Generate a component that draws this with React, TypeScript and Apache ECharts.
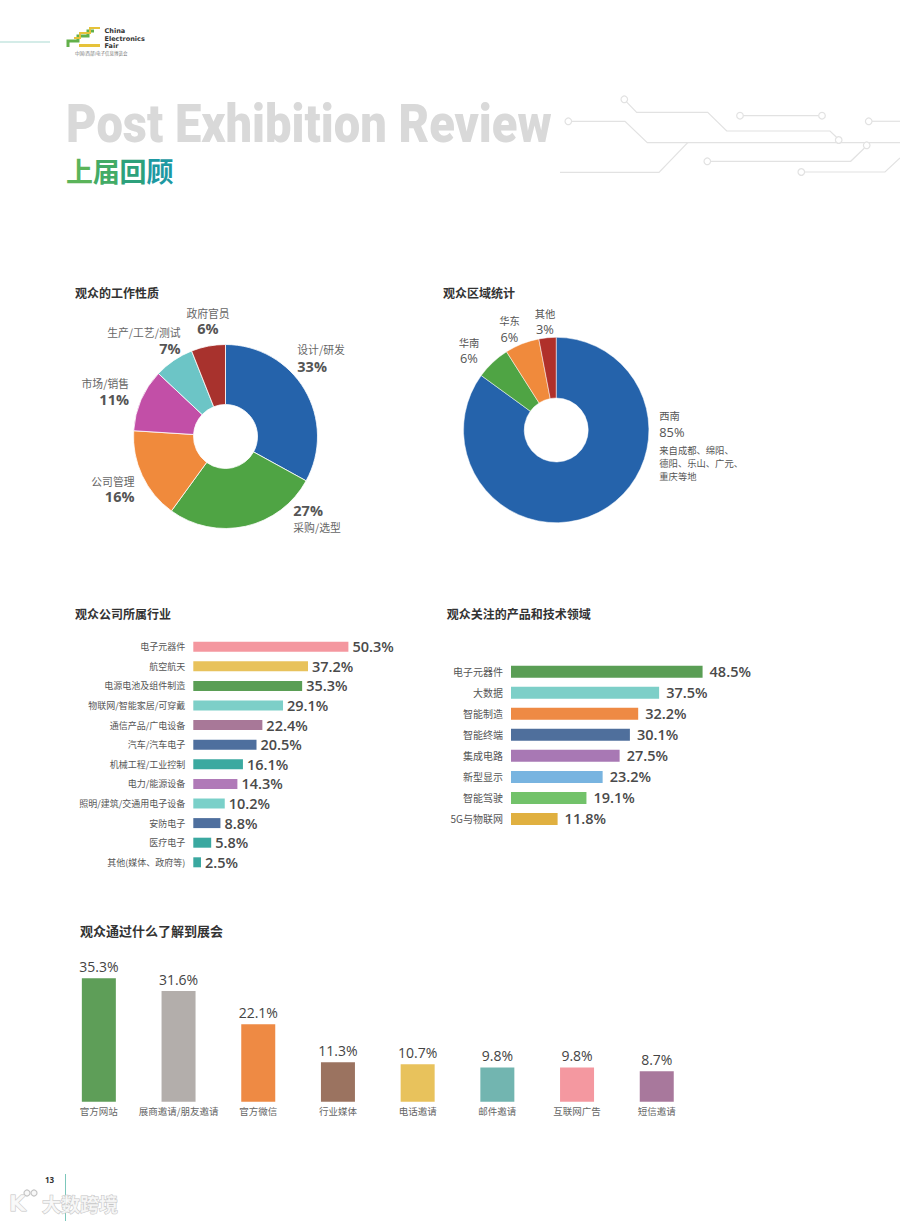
import React, { useEffect, useRef } from "react";
import * as echarts from "echarts";

// ---------- data ----------
const jobNames = ["设计/研发", "采购/选型", "公司管理", "市场/销售", "生产/工艺/测试", "政府官员"];
const jobValues = [33, 27, 16, 11, 7, 6];

const regionNames = ["西南", "华南", "华东", "其他"];
const regionValues = [85, 6, 6, 3];
const regionNote = ["来自成都、绵阳、", "德阳、乐山、广元、", "重庆等地"];

const industryNames = [
  "电子元器件", "航空航天", "电源电池及组件制造", "物联网/智能家居/可穿戴", "通信产品/广电设备",
  "汽车/汽车电子", "机械工程/工业控制", "电力/能源设备", "照明/建筑/交通用电子设备", "安防电子",
  "医疗电子", "其他(媒体、政府等)",
];
const industryValues = [50.3, 37.2, 35.3, 29.1, 22.4, 20.5, 16.1, 14.3, 10.2, 8.8, 5.8, 2.5];

const focusNames = ["电子元器件", "大数据", "智能制造", "智能终端", "集成电路", "新型显示", "智能驾驶", "5G与物联网"];
const focusValues = [48.5, 37.5, 32.2, 30.1, 27.5, 23.2, 19.1, 11.8];

const channelNames = ["官方网站", "展商邀请/朋友邀请", "官方微信", "行业媒体", "电话邀请", "邮件邀请", "互联网广告", "短信邀请"];
const channelValues = [35.3, 31.6, 22.1, 11.3, 10.7, 9.8, 9.8, 8.7];

const pageTitle = "Post Exhibition Review";
const pageSubtitle = "上届回顾";

// ---------- styles ----------
const jobColors = ["#2563ab", "#4fa444", "#f08a3c", "#c24fa7", "#6cc5c6", "#a8322d"];
const regionColors = ["#2563ab", "#4fa444", "#f08a3c", "#b0302a"];
const industryColors = [
  "#f4979f", "#e8c25c", "#5a9e55", "#7dcfc8", "#a87898", "#4e6f9e",
  "#3ba9a0", "#b07ab8", "#7ad0c9", "#4e6f9e", "#3aa8a0", "#3aa8a0",
];
const focusColors = ["#5a9e55", "#7dcfc8", "#ee8a44", "#4f6f9c", "#a878b4", "#78b4e0", "#72c26a", "#e0b040"];
const channelColors = ["#5e9e58", "#b3aeab", "#ee8a44", "#9b7360", "#e8c25c", "#72b5b0", "#f498a0", "#a8789c"];
const subtitleColors = ["#5bb45a", "#43ab66", "#2da17c", "#1d99a2"];

const CJK = "'Noto Sans CJK SC', sans-serif";
const NUM = "'Open Sans', 'Noto Sans CJK SC', sans-serif";

// annotation layout for the donut labels: first line center y and line heights
const jobLabelLayout = [
  { x: 297.3, align: "left", y: 349.3, pctFirst: false, lh: [15, 19.8] },
  { x: 293.3, align: "left", y: 510, pctFirst: true, lh: [18.4, 15] },
  { x: 134.5, align: "right", y: 480.8, pctFirst: false, lh: [12.6, 19.4] },
  { x: 129, align: "right", y: 383.3, pctFirst: false, lh: [12.6, 19.4] },
  { x: 180.5, align: "right", y: 332.4, pctFirst: false, lh: [12.6, 19.4] },
  { x: 208, align: "center", y: 312.6, pctFirst: false, lh: [12.6, 19.4] },
];
const regionLabelLayout = [
  { x: 659.3, align: "left", y: 415.2, lh: [14, 19] },
  { x: 469, align: "center", y: 342.3, lh: [13, 19] },
  { x: 509.5, align: "center", y: 320.5, lh: [13, 19] },
  { x: 545, align: "center", y: 313.2, lh: [13, 19] },
];

function measure(text: string, font: string): number {
  const c = document.createElement("canvas").getContext("2d");
  if (!c) return 650;
  c.font = font;
  return c.measureText(text).width;
}

function txt(x: number, y: number, text: string, style: any, extra: any = {}) {
  return {
    type: "text",
    x,
    y,
    silent: true,
    ...extra,
    style: { text, align: "left", verticalAlign: "middle", ...style },
  };
}

// one text element holding several stacked lines (rich text)
function stack(x: number, firstCenterY: number, align: string, lines: { text: string; style: any; lh: number }[]) {
  const rich: any = {};
  lines.forEach((l, i) => {
    rich["l" + i] = { ...l.style, lineHeight: l.lh, align };
  });
  return {
    type: "text",
    x,
    y: firstCenterY - lines[0].lh / 2,
    silent: true,
    style: {
      text: lines.map((l, i) => `{l${i}|${l.text}}`).join("\n"),
      rich,
      align,
      verticalAlign: "top",
    },
  };
}

function buildGraphics(): any[] {
  const g: any[] = [];
  const lineC = "#e2e2e2";
  // header teal line
  g.push({ type: "line", shape: { x1: 0, y1: 42, x2: 50, y2: 42 }, style: { stroke: "#a9d9d1", lineWidth: 1 } });
  // logo steps
  g.push({ type: "polyline", shape: { points: [[68, 47], [68, 41], [78, 41], [78, 36], [88, 36], [88, 31], [94, 31]] }, style: { stroke: "#62b04a", lineWidth: 3, fill: null } });
  g.push({ type: "polyline", shape: { points: [[74, 38], [80, 38], [80, 33], [90, 33], [90, 28], [100, 28]] }, style: { stroke: "#e6c23a", lineWidth: 2, fill: null } });
  g.push({ type: "rect", shape: { x: 79, y: 44, width: 21, height: 3 }, style: { fill: "#e6c23a" } });
  g.push(stack(104.5, 31, "left", [
    { text: "China", style: { fill: "#333", fontSize: 6.5, fontWeight: "bold", fontFamily: "'DejaVu Sans', sans-serif" }, lh: 7.6 },
    { text: "Electronics", style: { fill: "#333", fontSize: 6.5, fontWeight: "bold", fontFamily: "'DejaVu Sans', sans-serif" }, lh: 7.6 },
    { text: "Fair", style: { fill: "#333", fontSize: 6.5, fontWeight: "bold", fontFamily: "'DejaVu Sans', sans-serif" }, lh: 7.6 },
  ]));
  g.push(txt(75, 53.3, "中国(西部)电子信息博览会", { fill: "#777", fontSize: 4.5, fontFamily: CJK }));

  // big title
  const titleFont = "900 53px Roboto";
  const w = measure(pageTitle, titleFont);
  g.push(txt(66, 124, pageTitle, { fill: "#d9d9d9", fontSize: 53, fontWeight: 900, fontFamily: "Roboto" }, { scaleX: 486 / w }));
  Array.from(pageSubtitle).forEach((ch, i) => {
    g.push(txt(66 + i * 26.8, 170, ch, { fill: subtitleColors[i], fontSize: 27, fontWeight: "bold", fontFamily: CJK }));
  });

  // circuit lines
  const pl = (pts: number[][]) => g.push({ type: "polyline", shape: { points: pts }, style: { stroke: lineC, lineWidth: 1.2, fill: null } });
  const ci = (cx: number, cy: number) => g.push({ type: "circle", shape: { cx, cy, r: 3.3 }, style: { stroke: lineC, lineWidth: 1.2, fill: "#fff" } });
  pl([[626.5, 101.8], [636.7, 112.3], [707.7, 112.3], [726.7, 131], [830, 131], [836.5, 137.3]]);
  pl([[571.6, 121.3], [625, 121.3], [647.3, 142.7], [900, 142.7]]);
  pl([[687.7, 142.7], [659, 172.3], [560, 172.3]]);
  pl([[743.3, 115.7], [818.7, 115.7]]);
  pl([[872, 121.3], [900, 121.3]]);
  pl([[864.5, 148], [850.7, 161.3], [710.6, 161.3]]);
  pl([[804.6, 172], [885, 172], [900, 158]]);
  ci(624.3, 99.3); ci(838.7, 140); ci(568.3, 121.3); ci(740, 115.7); ci(822, 115.7);
  ci(868.7, 121.3); ci(866.7, 145.3); ci(707.3, 161.3); ci(801.3, 172);

  // section titles
  const titleStyle = { fill: "#333", fontSize: 12, fontWeight: "bold", fontFamily: CJK };
  g.push(txt(75, 292.7, "观众的工作性质", titleStyle));
  g.push(txt(443, 292.7, "观众区域统计", titleStyle));
  g.push(txt(75, 613.3, "观众公司所属行业", titleStyle));
  g.push(txt(446.7, 613.3, "观众关注的产品和技术领域", titleStyle));
  g.push(txt(80, 930, "观众通过什么了解到展会", { ...titleStyle, fontSize: 13 }));

  // donut 1 annotations
  const jobNameStyle = { fill: "#666", fontSize: 10.8, fontFamily: CJK };
  const jobPctStyle = { fill: "#555", fontSize: 14.5, fontWeight: "bold", fontFamily: NUM };
  jobNames.forEach((n, i) => {
    const L = jobLabelLayout[i];
    const nameLine = { text: n, style: jobNameStyle };
    const pctLine = { text: jobValues[i] + "%", style: jobPctStyle };
    const order = L.pctFirst ? [pctLine, nameLine] : [nameLine, pctLine];
    g.push(stack(L.x, L.y, L.align, order.map((o, k) => ({ ...o, lh: L.lh[k] }))));
  });
  // donut 2 annotations
  const regNameStyle = { fill: "#555", fontSize: 10.3, fontFamily: CJK };
  const regPctStyle = { fill: "#555", fontSize: 12.8, fontFamily: NUM };
  regionNames.forEach((n, i) => {
    const L = regionLabelLayout[i];
    g.push(stack(L.x, L.y, L.align, [
      { text: n, style: regNameStyle, lh: L.lh[0] },
      { text: regionValues[i] + "%", style: regPctStyle, lh: L.lh[1] },
    ]));
  });
  g.push(stack(659.3, 450, "left", regionNote.map((line) => ({
    text: line, style: { fill: "#555", fontSize: 9.3, fontFamily: CJK }, lh: 13,
  }))));

  // footer
  g.push(txt(45, 1179, "13", { fill: "#333", fontSize: 8, fontWeight: "bold", fontFamily: NUM }));
  g.push({ type: "line", shape: { x1: 65.5, y1: 1174, x2: 65.5, y2: 1221 }, style: { stroke: "#7cc7bb", lineWidth: 1 } });
  const wm = { fill: "rgba(248,248,248,0.85)", stroke: "#c4c4c4", lineWidth: 1, fontFamily: CJK, fontWeight: "bold" };
  g.push(txt(9, 1203, "K", { ...wm, fontSize: 22, fontFamily: "'DejaVu Sans', sans-serif" }));
  g.push({ type: "circle", shape: { cx: 27, cy: 1193, r: 3 }, style: { stroke: "#c4c4c4", lineWidth: 1.2, fill: "#f8f8f8" } });
  g.push({ type: "circle", shape: { cx: 34, cy: 1193, r: 3 }, style: { stroke: "#c4c4c4", lineWidth: 1.2, fill: "#f8f8f8" } });
  g.push(txt(42, 1203, "大数跨境", { ...wm, fontSize: 19 }));
  return g;
}

function buildOption(): any {
  const pct = (p: any) => Number(p.value).toFixed(1) + "%";
  const hideAxis = { show: false };
  return {
    animation: false,
    backgroundColor: "#ffffff",
    grid: [
      { left: 193.3, top: 636.9, width: 185, height: 235.2, containLabel: false, outerBoundsMode: "none" },
      { left: 511, top: 661.2, width: 237, height: 168.3, containLabel: false, outerBoundsMode: "none" },
      { left: 59, top: 961.7, width: 637.6, height: 140, containLabel: false, outerBoundsMode: "none" },
    ],
    xAxis: [
      { gridIndex: 0, type: "value", min: 0, max: 60, ...hideAxis },
      { gridIndex: 1, type: "value", min: 0, max: 60, ...hideAxis },
      {
        gridIndex: 2, type: "category", data: channelNames,
        axisLine: { show: false }, axisTick: { show: false },
        axisLabel: { interval: 0, fontSize: 9.5, color: "#666", margin: 5, fontFamily: CJK },
      },
    ],
    yAxis: [
      {
        gridIndex: 0, type: "category", data: industryNames, inverse: true,
        axisLine: { show: false }, axisTick: { show: false }, splitLine: { show: false },
        axisLabel: { interval: 0, fontSize: 9, color: "#555", margin: 8, fontFamily: CJK },
      },
      {
        gridIndex: 1, type: "category", data: focusNames, inverse: true,
        axisLine: { show: false }, axisTick: { show: false }, splitLine: { show: false },
        axisLabel: { interval: 0, fontSize: 10, color: "#555", margin: 8, fontFamily: CJK },
      },
      { gridIndex: 2, type: "value", min: 0, max: 40, ...hideAxis },
    ],
    series: [
      {
        type: "pie", center: [225.5, 436.5], radius: [32, 92], startAngle: 90, clockwise: true,
        label: { show: false }, labelLine: { show: false }, silent: true,
        itemStyle: { borderColor: "#fff", borderWidth: 0.8 },
        data: jobNames.map((n, i) => ({ name: n, value: jobValues[i], itemStyle: { color: jobColors[i] } })),
      },
      {
        type: "pie", center: [556.2, 430], radius: [32, 92.7], startAngle: 90, clockwise: true,
        label: { show: false }, labelLine: { show: false }, silent: true,
        itemStyle: { borderColor: "#fff", borderWidth: 0.5 },
        data: regionNames.map((n, i) => ({ name: n, value: regionValues[i], itemStyle: { color: regionColors[i] } })),
      },
      {
        type: "bar", xAxisIndex: 0, yAxisIndex: 0, barWidth: 10,
        data: industryValues.map((v, i) => ({ value: v, itemStyle: { color: industryColors[i] } })),
        label: { show: true, position: "right", distance: 4, formatter: pct, fontSize: 14.5, fontWeight: 600, color: "#4a4a4a", fontFamily: NUM },
      },
      {
        type: "bar", xAxisIndex: 1, yAxisIndex: 1, barWidth: 12,
        data: focusValues.map((v, i) => ({ value: v, itemStyle: { color: focusColors[i] } })),
        label: { show: true, position: "right", distance: 7, formatter: pct, fontSize: 14.5, fontWeight: 600, color: "#4a4a4a", fontFamily: NUM },
      },
      {
        type: "bar", xAxisIndex: 2, yAxisIndex: 2, barWidth: 34,
        data: channelValues.map((v, i) => ({ value: v, itemStyle: { color: channelColors[i] } })),
        label: { show: true, position: "top", distance: 5, formatter: pct, fontSize: 14, fontWeight: 500, color: "#444", fontFamily: NUM },
      },
    ],
    graphic: { elements: buildGraphics() },
  };
}

export default function App() {
  const ref = useRef<HTMLDivElement>(null);
  useEffect(() => {
    if (!ref.current) return;
    const chart = echarts.init(ref.current, null, { renderer: "svg" });
    chart.setOption(buildOption());
    return () => chart.dispose();
  }, []);
  return (
    <div
      ref={ref}
      style={{ position: "absolute", left: 0, top: 0, width: 900, height: 1221, background: "#fff" }}
    />
  );
}
